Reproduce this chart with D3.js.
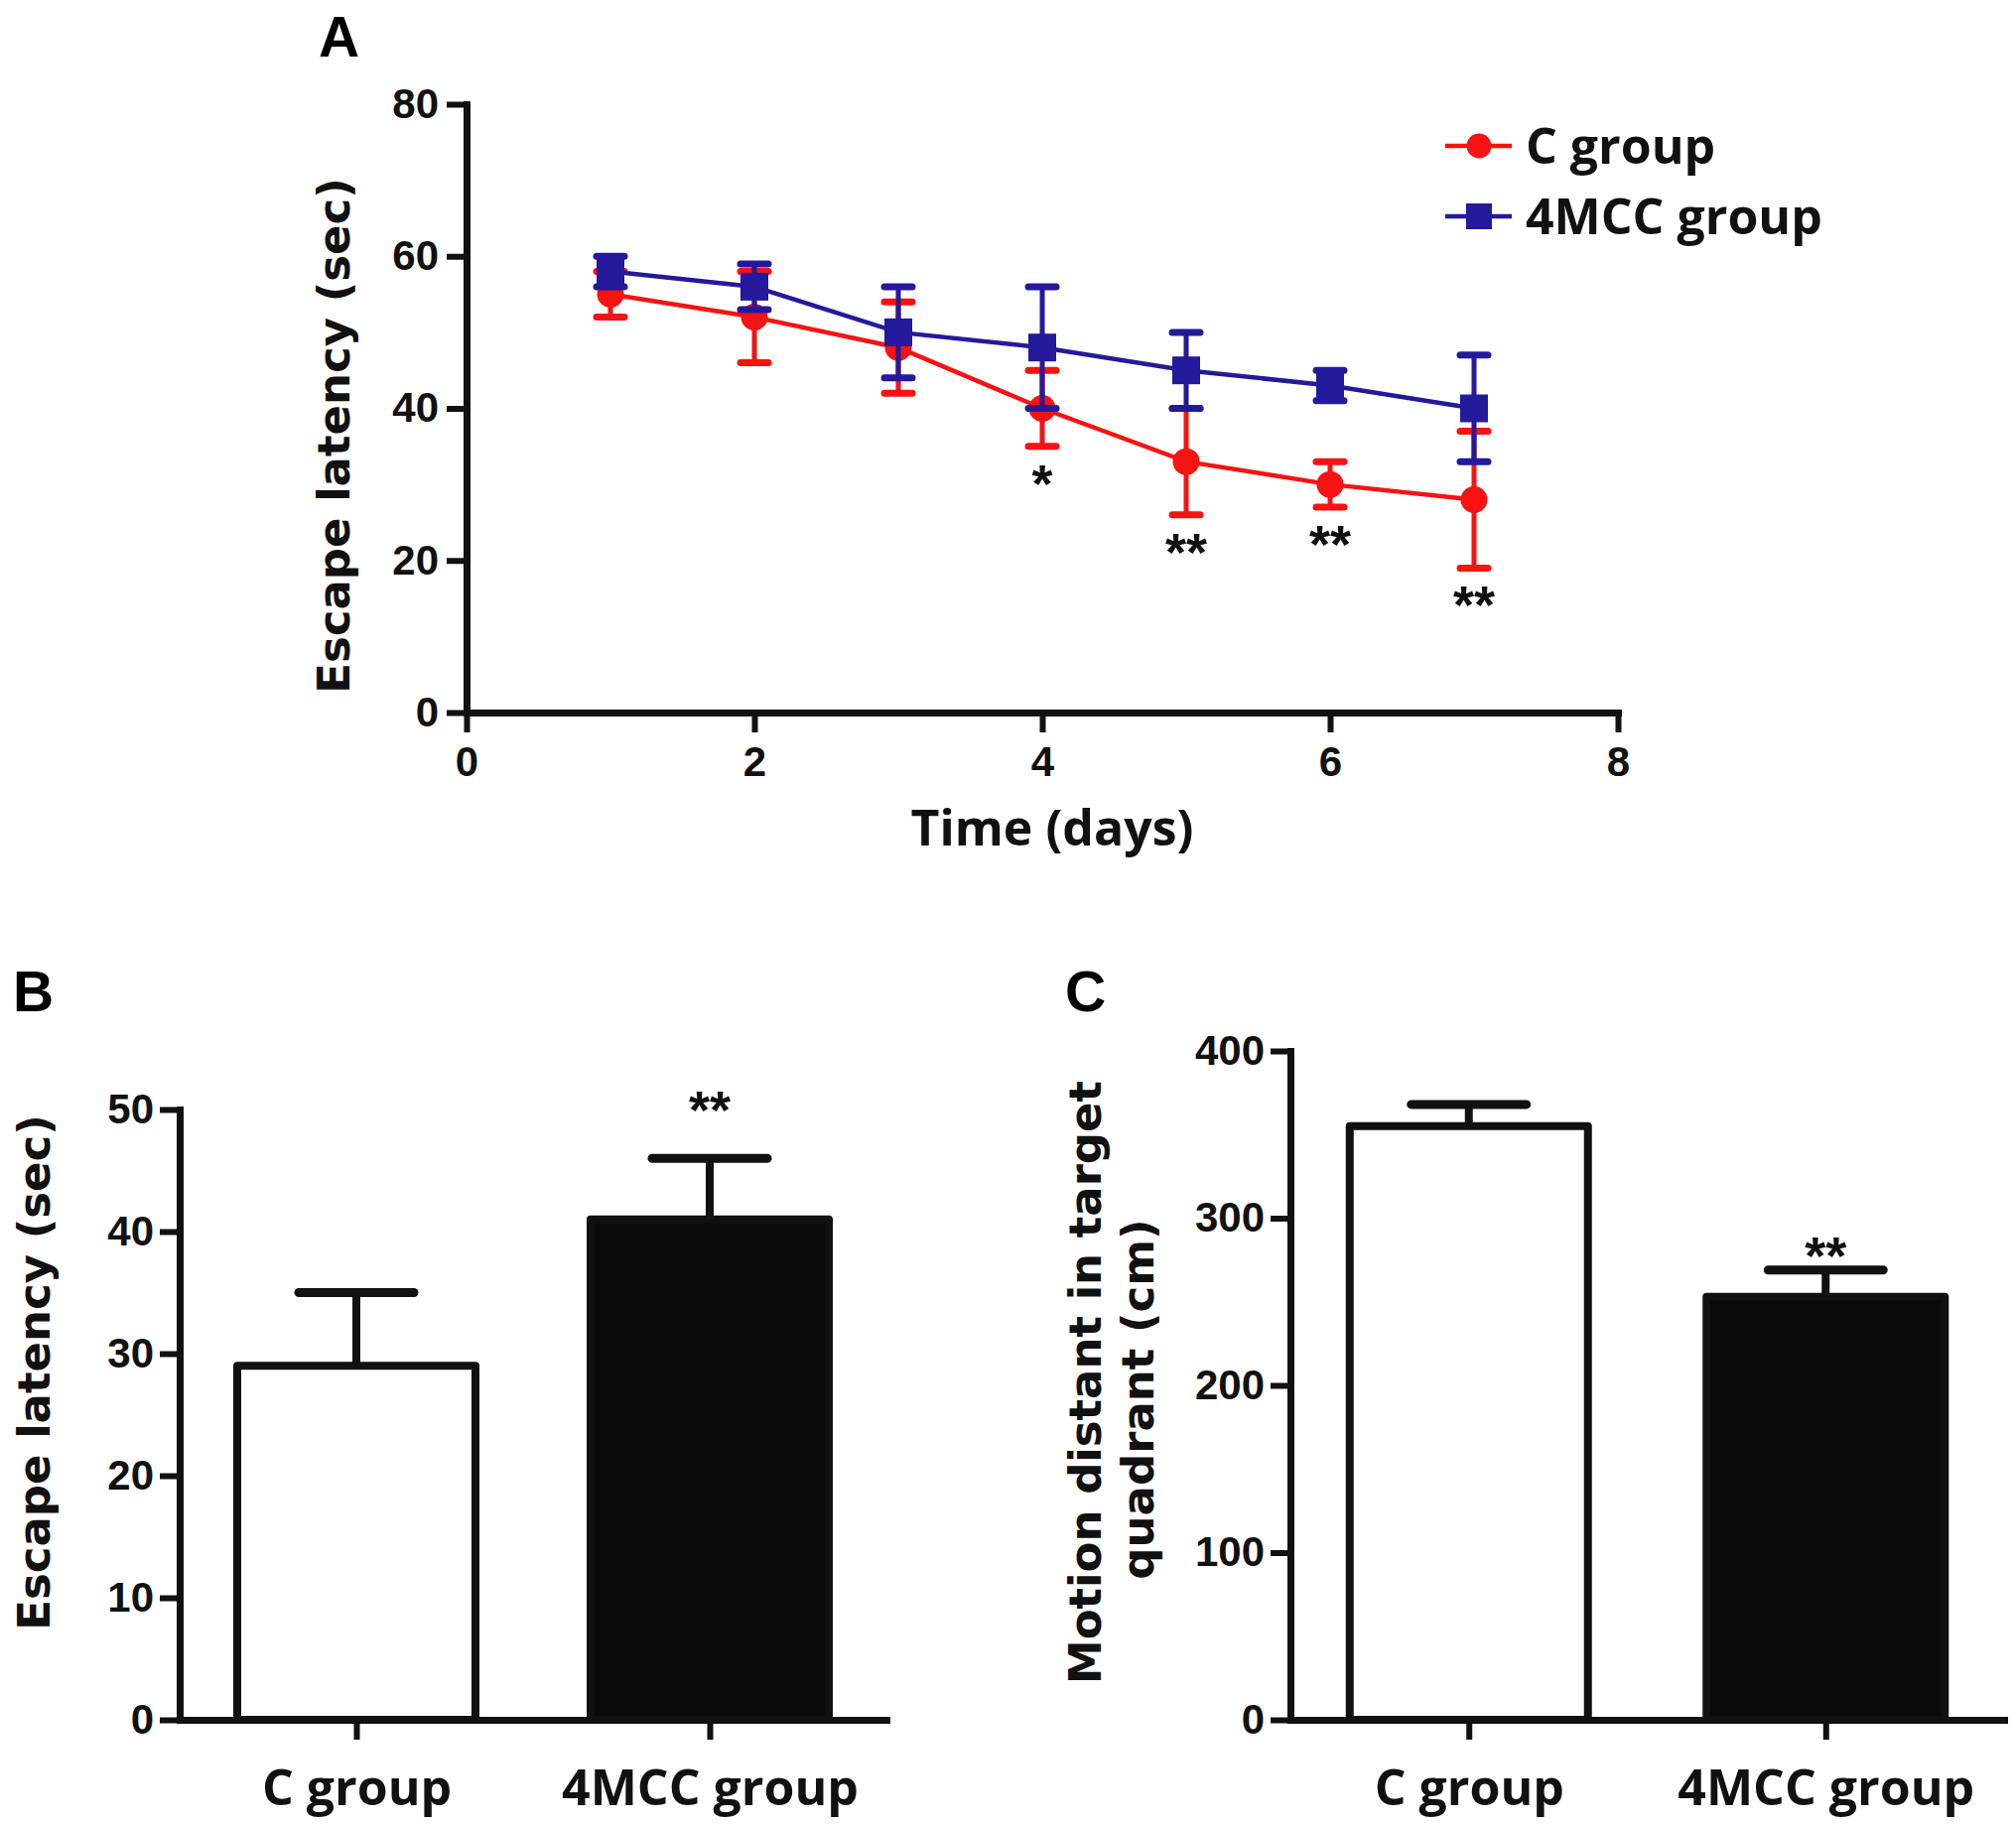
<!DOCTYPE html>
<html>
<head>
<meta charset="utf-8">
<script src="https://cdn.jsdelivr.net/npm/d3@7"></script>
<style>
  body { margin: 0; background: #fff; }
  .tick text { font-family: "Liberation Sans", Arial, sans-serif; font-weight: bold; }
</style>
</head>
<body>
<div id="chart"></div>
<script>
// Panel A: escape latency over the training days
const DAYS = [1, 2, 3, 4, 5, 6, 7];
const C_MEAN = [55, 52, 48, 40, 33, 30, 28];
const C_ERR = [3, 6, 6, 5, 7, 3, 9];
const M_MEAN = [58, 56, 50, 48, 45, 43, 40];
const M_ERR = [2, 3, 6, 8, 5, 2, 7];
const DAY_SIG = ["", "", "", "*", "**", "**", "**"];
const A_X_TICKS = [0, 2, 4, 6, 8];
const A_Y_TICKS = [0, 20, 40, 60, 80];

// Panels B and C: bar charts
const GROUPS = ["C group", "4MCC group"];
const B_MEAN = [29, 41];
const B_ERR = [6, 5];
const B_SIG = ["", "**"];
const B_Y_TICKS = [0, 10, 20, 30, 40, 50];
const DIST_MEAN = [355, 253];
const DIST_ERR = [13, 16];
const DIST_SIG = ["", "**"];
const C_Y_TICKS = [0, 100, 200, 300, 400];

const RED = "#f81212";
const BLUE = "#25199b";
const INK = "#111";
const TITLE_FONT = "'DejaVu Sans', Verdana, sans-serif";
const LABEL_FONT = "'Open Sans', 'Noto Sans', sans-serif";
const LETTER_FONT = "'Liberation Sans', Arial, sans-serif";

const svg = d3.select("#chart").append("svg")
    .attr("width", 2031)
    .attr("height", 1840);

// shared axis styling
function styleAxis(g, tickFont) {
    g.select(".domain").attr("stroke", INK).attr("stroke-width", 7).attr("stroke-linecap", "square");
    g.selectAll(".tick line").attr("stroke", INK).attr("stroke-width", 6);
    g.selectAll(".tick text").attr("fill", INK).style("font-size", tickFont + "px");
}

// ---------------- Panel A ----------------
const xA = d3.scaleLinear().domain([0, 8]).range([470, 1630]);
const yA = d3.scaleLinear().domain([0, 80]).range([718, 105]);

svg.append("g")
    .attr("transform", "translate(0,718)")
    .call(d3.axisBottom(xA).tickValues(A_X_TICKS).tickSize(20).tickSizeOuter(0).tickPadding(14))
    .call(g => styleAxis(g, 42));

svg.append("g")
    .attr("transform", "translate(470,0)")
    .call(d3.axisLeft(yA).tickValues(A_Y_TICKS).tickSize(20).tickSizeOuter(0).tickPadding(8))
    .call(g => styleAxis(g, 42));

svg.append("text")
    .attr("x", 321).attr("y", 57)
    .attr("font-family", LETTER_FONT).attr("font-weight", "bold").attr("font-size", 57)
    .text("A");

svg.append("text")
    .attr("transform", "translate(352,439) rotate(-90)")
    .attr("text-anchor", "middle")
    .attr("font-family", TITLE_FONT).attr("font-weight", "bold").attr("font-size", 45)
    .attr("fill", INK)
    .text("Escape latency (sec)");

svg.append("text")
    .attr("x", 1060).attr("y", 852)
    .attr("text-anchor", "middle")
    .attr("font-family", LABEL_FONT).attr("font-weight", 700).attr("font-size", 50)
    .attr("fill", INK)
    .text("Time (days)");

const seriesA = [
    { name: "C group", color: RED, shape: "circle", mean: C_MEAN, err: C_ERR },
    { name: "4MCC group", color: BLUE, shape: "square", mean: M_MEAN, err: M_ERR }
];

const line = d3.line().x(d => xA(d.day)).y(d => yA(d.mean));

seriesA.forEach(s => {
    const pts = DAYS.map((day, i) => ({ day: day, mean: s.mean[i], err: s.err[i] }));
    const g = svg.append("g");

    g.append("path")
        .datum(pts)
        .attr("fill", "none")
        .attr("stroke", s.color)
        .attr("stroke-width", 4.5)
        .attr("d", line);

    const eb = g.selectAll(".eb").data(pts).enter().append("g")
        .attr("stroke", s.color).attr("stroke-linecap", "round");
    eb.append("line")
        .attr("x1", d => xA(d.day)).attr("x2", d => xA(d.day))
        .attr("y1", d => yA(d.mean - d.err)).attr("y2", d => yA(d.mean + d.err))
        .attr("stroke-width", 5);
    [-1, 1].forEach(sign => {
        eb.append("line")
            .attr("x1", d => xA(d.day) - 14).attr("x2", d => xA(d.day) + 14)
            .attr("y1", d => yA(d.mean + sign * d.err)).attr("y2", d => yA(d.mean + sign * d.err))
            .attr("stroke-width", 7);
    });

    if (s.shape === "circle") {
        g.selectAll(".pt").data(pts).enter().append("circle")
            .attr("cx", d => xA(d.day)).attr("cy", d => yA(d.mean))
            .attr("r", 13.5).attr("fill", s.color);
    } else {
        g.selectAll(".pt").data(pts).enter().append("rect")
            .attr("x", d => xA(d.day) - 14).attr("y", d => yA(d.mean) - 14)
            .attr("width", 28).attr("height", 28).attr("fill", s.color);
    }
});

// significance marks under the C group error bars
svg.selectAll(".sigA").data(DAYS.map((day, i) => ({ day: day, low: C_MEAN[i] - C_ERR[i], sig: DAY_SIG[i] })))
    .enter().append("text")
    .attr("x", d => xA(d.day)).attr("y", d => yA(d.low) + 56)
    .attr("text-anchor", "middle")
    .attr("font-family", LETTER_FONT).attr("font-weight", "bold").attr("font-size", 54)
    .attr("fill", INK)
    .text(d => d.sig);

// legend
const legend = svg.append("g");
seriesA.forEach((s, i) => {
    const y = 147 + i * 71;
    legend.append("line")
        .attr("x1", 1456).attr("x2", 1523).attr("y1", y).attr("y2", y)
        .attr("stroke", s.color).attr("stroke-width", 4.5);
    if (s.shape === "circle") {
        legend.append("circle").attr("cx", 1490).attr("cy", y).attr("r", 12.5).attr("fill", s.color);
    } else {
        legend.append("rect").attr("x", 1477).attr("y", y - 13).attr("width", 26).attr("height", 26).attr("fill", s.color);
    }
    legend.append("text")
        .attr("x", 1537).attr("y", y + 18)
        .attr("font-family", LABEL_FONT).attr("font-weight", 700).attr("font-size", 50)
        .attr("fill", INK)
        .text(s.name);
});

// ---------------- Panels B and C ----------------
function barPanel(opt) {
    const x = d3.scalePoint().domain(GROUPS).range([opt.left, opt.right]).padding(0.5);
    const y = d3.scaleLinear().domain([0, opt.max]).range([1733, opt.top]);
    const g = svg.append("g");

    const rows = GROUPS.map((grp, i) => ({ grp: grp, mean: opt.mean[i], err: opt.err[i], sig: opt.sig[i], fill: i === 0 ? "#fff" : "#0a0a0a" }));

    // error bars (upper only)
    g.selectAll(".err").data(rows).enter().append("line")
        .attr("x1", d => x(d.grp)).attr("x2", d => x(d.grp))
        .attr("y1", d => y(d.mean)).attr("y2", d => y(d.mean + d.err))
        .attr("stroke", INK).attr("stroke-width", 8);
    g.selectAll(".cap").data(rows).enter().append("line")
        .attr("x1", d => x(d.grp) - 58).attr("x2", d => x(d.grp) + 58)
        .attr("y1", d => y(d.mean + d.err)).attr("y2", d => y(d.mean + d.err))
        .attr("stroke", INK).attr("stroke-width", 9).attr("stroke-linecap", "round");

    g.selectAll(".bar").data(rows).enter().append("rect")
        .attr("x", d => x(d.grp) - 120).attr("width", 240)
        .attr("y", d => y(d.mean)).attr("height", d => y(0) - y(d.mean))
        .attr("fill", d => d.fill)
        .attr("stroke", INK).attr("stroke-width", 8).attr("stroke-linejoin", "round");

    g.selectAll(".sig").data(rows).enter().append("text")
        .attr("x", d => x(d.grp)).attr("y", d => y(d.mean + d.err) - opt.sigGap)
        .attr("text-anchor", "middle")
        .attr("font-family", LETTER_FONT).attr("font-weight", "bold").attr("font-size", 54)
        .attr("fill", INK)
        .text(d => d.sig);

    g.append("g")
        .attr("transform", "translate(0,1733)")
        .call(d3.axisBottom(x).tickSize(20).tickSizeOuter(0).tickPadding(30))
        .call(a => styleAxis(a, 50))
        .call(a => a.selectAll(".tick text")
            .style("font-family", LABEL_FONT).style("font-weight", 700));

    g.append("g")
        .attr("transform", "translate(" + opt.left + ",0)")
        .call(d3.axisLeft(y).tickValues(opt.ticks).tickSize(20).tickSizeOuter(0).tickPadding(6))
        .call(a => styleAxis(a, 42));

    g.append("text")
        .attr("x", opt.letterX).attr("y", 1019)
        .attr("font-family", LETTER_FONT).attr("font-weight", "bold").attr("font-size", 57)
        .text(opt.letter);

    opt.title.forEach(t => {
        g.append("text")
            .attr("transform", "translate(" + t.x + "," + t.y + ") rotate(-90)")
            .attr("text-anchor", "middle")
            .attr("font-family", TITLE_FONT).attr("font-weight", "bold").attr("font-size", 45)
            .attr("fill", INK)
            .text(t.text);
    });
}

barPanel({
    left: 181, right: 893, top: 1118, max: 50,
    mean: B_MEAN, err: B_ERR, sig: B_SIG, ticks: B_Y_TICKS, sigGap: 30,
    letter: "B", letterX: 13,
    title: [{ text: "Escape latency (sec)", x: 50, y: 1383 }]
});

barPanel({
    left: 1300, right: 2019, top: 1059, max: 400,
    mean: DIST_MEAN, err: DIST_ERR, sig: DIST_SIG, ticks: C_Y_TICKS, sigGap: -4,
    letter: "C", letterX: 1073,
    title: [
        { text: "Motion distant in target", x: 1109, y: 1393 },
        { text: "quadrant (cm)", x: 1162, y: 1410 }
    ]
});
</script>
</body>
</html>
